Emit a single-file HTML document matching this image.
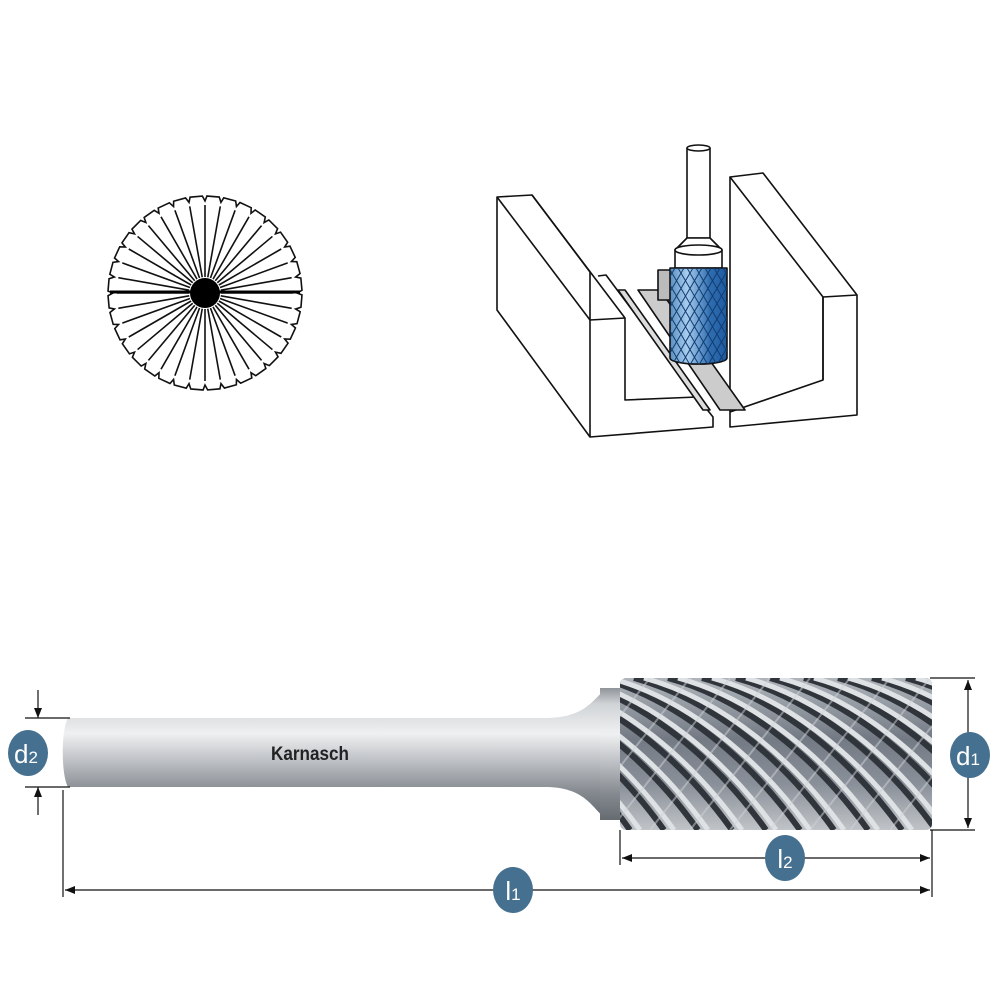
<!DOCTYPE html>
<html><head><meta charset="utf-8"><style>
html,body{margin:0;padding:0;background:#fff;width:1000px;height:1000px;overflow:hidden}
svg{display:block}
</style></head><body>
<svg id="s" width="1000" height="1000" viewBox="0 0 1000 1000" xmlns="http://www.w3.org/2000/svg">
<defs>
<linearGradient id="shank" x1="0" y1="0" x2="0" y2="1">
<stop offset="0" stop-color="#8f949a"/><stop offset="0.12" stop-color="#d0d3d6"/><stop offset="0.35" stop-color="#eff0f1"/><stop offset="0.55" stop-color="#c0c3c7"/><stop offset="0.8" stop-color="#858a90"/><stop offset="1" stop-color="#666b72"/>
</linearGradient>
<linearGradient id="cut" x1="0" y1="0" x2="0" y2="1">
<stop offset="0" stop-color="#b0b5bb"/><stop offset="0.4" stop-color="#737a84"/><stop offset="0.7" stop-color="#8a9099"/><stop offset="1" stop-color="#c0c4c8"/>
</linearGradient>
<linearGradient id="blue" x1="0" y1="0" x2="1" y2="0">
<stop offset="0" stop-color="#5b8fc0"/><stop offset="0.3" stop-color="#a8cdef"/><stop offset="0.7" stop-color="#2f6db0"/><stop offset="1" stop-color="#1f5aa0"/>
</linearGradient>
<clipPath id="cc"><rect x="620" y="678" width="312" height="152" rx="6"/></clipPath>
<clipPath id="bc"><path d="M670,268 L670,358 A28,6 0 0 0 727,358 L727,268 Z"/></clipPath>
<marker id="ah" viewBox="0 0 10 10" refX="10" refY="5" markerWidth="10" markerHeight="10" markerUnits="userSpaceOnUse" orient="auto-start-reverse"><path d="M0,1 L10,5 L0,9 Z" fill="#111"/></marker>
</defs>

<g id="star" stroke="#111" fill="none" stroke-width="1.6"></g>
<circle cx="205" cy="293" r="15" fill="#000"/>
<line x1="110" y1="292" x2="300" y2="292" stroke="#000" stroke-width="3"/>

<g stroke="#111" stroke-width="1.6" fill="#fff" stroke-linejoin="round">
<path d="M497,197 L532,195 L590,272 L590,320 L625,318 L625,400 L697,397 L713,417 L713,427 L590,437 L497,310 Z"/>
<path d="M497,197 L590,320"/>
<path d="M532,195 L625,318"/>
<path d="M590,320 L590,437"/>
<path d="M598,276 L606,275 L697,397" fill="none"/>
<path d="M730,177 L763,173 L857,295 L857,415 L730,427 L730,412 L823,380 L823,297 L730,177 Z"/>
<path d="M823,297 L857,295" fill="none"/>
<path d="M823,380 L823,297" fill="none"/>
<path d="M730,177 L730,412" fill="none"/>
<path d="M618,290 L625,290 L710,410 L703,410 Z" fill="#ddd"/>
<path d="M638,290 L660,290 L745,410 L720,410 Z" fill="#ccc"/>
<path d="M658,270 L672,270 L672,300 L658,300 Z" fill="#bbb"/>
<path d="M687,148 L687,238 L710,238 L710,148" />
<ellipse cx="698.5" cy="148" rx="11.5" ry="3"/>
<path d="M675,250 L687,238 L710,238 L722,250 L722,268 L675,268 Z"/>
<ellipse cx="698.5" cy="250" rx="23.5" ry="5"/>
<path d="M670,268 L670,358 A28,6 0 0 0 727,358 L727,268 Z" fill="url(#blue)"/>
<g clip-path="url(#bc)" stroke="#123d70" stroke-width="1" fill="none" id="hatch"></g>
</g>

<path d="M68,718 L545,718 C585,718 592,700 605,690 L622,688 L622,818 L605,818 C592,808 585,787 545,787 L68,787 C61,775 61,730 68,718 Z" fill="url(#shank)"/>
<rect x="600" y="688" width="24" height="132" fill="url(#shank)"/>
<rect x="620" y="678" width="312" height="152" rx="6" fill="url(#cut)"/>
<g clip-path="url(#cc)" id="flutes"></g>
<text x="310" y="760" font-family="Liberation Sans, sans-serif" font-weight="bold" font-size="19" fill="#222" text-anchor="middle" transform="translate(310 0) scale(0.9 1) translate(-310 0)">Karnasch</text>

<g stroke="#111" stroke-width="1.2" fill="none">
<line x1="25" y1="718" x2="70" y2="718"/><line x1="25" y1="787" x2="70" y2="787"/>
<line x1="38" y1="690" x2="38" y2="718" marker-end="url(#ah)"/>
<line x1="38" y1="815" x2="38" y2="787" marker-end="url(#ah)"/>
<line x1="63" y1="790" x2="63" y2="897"/>
<line x1="620" y1="830" x2="620" y2="865"/>
<line x1="932" y1="830" x2="932" y2="897"/>
<line x1="930" y1="678" x2="975" y2="678"/><line x1="930" y1="830" x2="975" y2="830"/>
<line x1="968" y1="680" x2="968" y2="828" marker-start="url(#ah)" marker-end="url(#ah)"/>
<line x1="622" y1="858" x2="930" y2="858" marker-start="url(#ah)" marker-end="url(#ah)"/>
<line x1="65" y1="890" x2="930" y2="890" marker-start="url(#ah)" marker-end="url(#ah)"/>
</g>
<g fill="#45708f">
<ellipse cx="28" cy="753" rx="20" ry="23"/>
<ellipse cx="970" cy="755" rx="20" ry="23"/>
<ellipse cx="785" cy="858" rx="20" ry="23"/>
<ellipse cx="513" cy="890" rx="20" ry="23"/>
</g>
<g fill="#fff" font-family="Liberation Sans, sans-serif" font-size="26" text-anchor="middle">
<text x="26" y="763">d<tspan font-size="17">2</tspan></text>
<text x="968" y="765">d<tspan font-size="17">1</tspan></text>
<text x="785" y="868">l<tspan font-size="17">2</tspan></text>
<text x="513" y="900">l<tspan font-size="17">1</tspan></text>
</g>
</svg>
<script>
var NS="http://www.w3.org/2000/svg";
function el(p,t,a){var e=document.createElementNS(NS,t);for(var k in a)e.setAttribute(k,a[k]);p.appendChild(e);return e;}
var st=document.getElementById("star"),cx=205,cy=293,n=36;
var d="";
for(var i=0;i<n;i++){var a=i*2*Math.PI/n,a2=(i+0.5)*2*Math.PI/n;
el(st,"line",{x1:cx+16*Math.cos(a),y1:cy+16*Math.sin(a),x2:cx+88*Math.cos(a),y2:cy+88*Math.sin(a)});
var r1=92,r2=97;
d+=(i?"L":"M")+(cx+r1*Math.cos(a))+","+(cy+r1*Math.sin(a))+" L"+(cx+r2*Math.cos(a+0.02))+","+(cy+r2*Math.sin(a+0.02))+" L"+(cx+r2*Math.cos(a2+0.06))+","+(cy+r2*Math.sin(a2+0.06))+" ";}
el(st,"path",{d:d+"Z"});
var h=document.getElementById("hatch");
for(var k=-10;k<20;k++){el(h,"line",{x1:660+k*9,y1:268,x2:660+k*9+60,y2:370});el(h,"line",{x1:660+k*9+60,y1:268,x2:660+k*9,y2:370});}
var f=document.getElementById("flutes");
for(var k=-8;k<12;k++){var x=600+k*34;
el(f,"path",{d:"M"+x+",678 C"+(x+80)+",700 "+(x+150)+",760 "+(x+200)+",830",stroke:"#30353c","stroke-width":"6",fill:"none"});
el(f,"path",{d:"M"+(x+10)+",678 C"+(x+90)+",700 "+(x+160)+",760 "+(x+210)+",830",stroke:"#dfe2e5","stroke-width":"5",fill:"none"});}
for(var k=-5;k<12;k++){var x=610+k*40;
el(f,"path",{d:"M"+x+",830 L"+(x+120)+",678",stroke:"#cfd3d7","stroke-width":"2",fill:"none","opacity":"0.5"});}
</script>
</body></html>
